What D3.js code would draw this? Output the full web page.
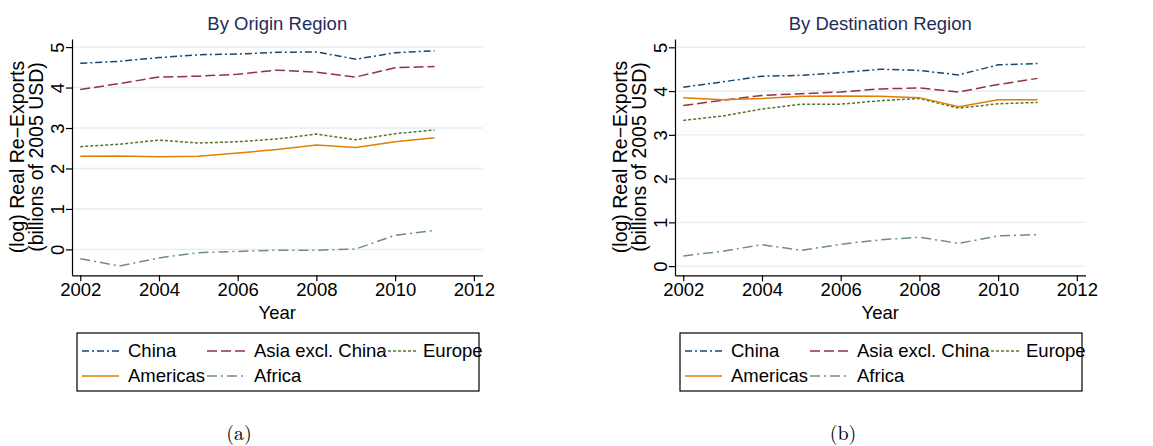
<!DOCTYPE html>
<html>
<head>
<meta charset="utf-8">
<script src="https://cdn.jsdelivr.net/npm/d3@7"></script>
<style>
  html, body { margin: 0; padding: 0; background: #fff; }
  svg text { font-family: "Liberation Sans", Arial, sans-serif; }
</style>
</head>
<body>
<svg id="chart" width="1153" height="446"></svg>
<script>
// Years on the x axis
const years = [2002, 2003, 2004, 2005, 2006, 2007, 2008, 2009, 2010, 2011];
const xTicks = [2002, 2004, 2006, 2008, 2010, 2012];
const yTicks = [0, 1, 2, 3, 4, 5];

const seriesNames = ["China", "Asia excl. China", "Europe", "Americas", "Africa"];

// (log) real re-exports by origin region
const originChina    = [4.60, 4.65, 4.74, 4.81, 4.83, 4.87, 4.88, 4.70, 4.86, 4.91];
const originAsia     = [3.95, 4.10, 4.26, 4.28, 4.33, 4.43, 4.38, 4.26, 4.49, 4.52];
const originEurope   = [2.54, 2.60, 2.70, 2.63, 2.66, 2.73, 2.85, 2.71, 2.86, 2.95];
const originAmericas = [2.30, 2.31, 2.29, 2.30, 2.38, 2.47, 2.58, 2.52, 2.66, 2.76];
const originAfrica   = [-0.23, -0.41, -0.21, -0.08, -0.05, -0.02, -0.02, 0.01, 0.35, 0.47];

// (log) real re-exports by destination region
const destChina    = [4.09, 4.21, 4.34, 4.36, 4.42, 4.50, 4.47, 4.37, 4.60, 4.63];
const destAsia     = [3.67, 3.79, 3.90, 3.94, 3.98, 4.05, 4.07, 3.98, 4.15, 4.29];
const destEurope   = [3.33, 3.43, 3.59, 3.70, 3.70, 3.78, 3.83, 3.61, 3.71, 3.74];
const destAmericas = [3.85, 3.80, 3.83, 3.88, 3.89, 3.88, 3.85, 3.64, 3.80, 3.80];
const destAfrica   = [0.23, 0.34, 0.49, 0.36, 0.50, 0.60, 0.66, 0.52, 0.69, 0.72];

const styles = {
  "China":            { color: "#1a476f", dash: "7,3,2,3" },
  "Asia excl. China": { color: "#90353b", dash: "10,4" },
  "Europe":           { color: "#55752f", dash: "3,2" },
  "Americas":         { color: "#e37e00", dash: null },
  "Africa":           { color: "#6e8e84", dash: "10,4,2,4" }
};

const panels = [
  { title: "By Origin Region", caption: "(a)", left: 72, yDomain: [-0.64, 5.2], captionX: 239,
    values: [originChina, originAsia, originEurope, originAmericas, originAfrica] },
  { title: "By Destination Region", caption: "(b)", left: 675, yDomain: [-0.21, 5.19], captionX: 843,
    values: [destChina, destAsia, destEurope, destAmericas, destAfrica] }
];

const svg = d3.select("#chart");
const plotW = 410.5, plotTop = 39, plotBottom = 275.3;

panels.forEach(p => {
  const g = svg.append("g");
  const x = d3.scaleLinear().domain([2001.79, 2012.22]).range([p.left, p.left + plotW]);
  const y = d3.scaleLinear().domain(p.yDomain).range([plotBottom, plotTop]);

  // grid lines
  g.append("g").selectAll("line").data(yTicks).join("line")
    .attr("x1", p.left).attr("x2", p.left + plotW)
    .attr("y1", d => y(d)).attr("y2", d => y(d))
    .attr("stroke", "#e4edf0").attr("stroke-width", 1.4);

  // y axis
  const yAxis = g.append("g").attr("transform", `translate(${p.left},0)`)
    .call(d3.axisLeft(y).tickValues(yTicks).tickFormat(d3.format("d")).tickSize(6).tickSizeOuter(0));
  yAxis.select(".domain").attr("stroke", "#000").attr("stroke-width", 1.2);
  yAxis.selectAll(".tick line").attr("stroke", "#000").attr("stroke-width", 1.2);
  yAxis.selectAll(".tick text")
    .attr("font-size", 18.5).attr("fill", "#000")
    .attr("x", 0).attr("dy", 0).attr("text-anchor", "middle")
    .attr("transform", "translate(-8,0) rotate(-90)");

  // x axis
  const xAxis = g.append("g").attr("transform", `translate(0,${plotBottom})`)
    .call(d3.axisBottom(x).tickValues(xTicks).tickFormat(d3.format("d")).tickSize(6).tickSizeOuter(0));
  xAxis.select(".domain").attr("stroke", "#000").attr("stroke-width", 1.2);
  xAxis.selectAll(".tick line").attr("stroke", "#000").attr("stroke-width", 1.2);
  xAxis.selectAll(".tick text").attr("font-size", 18.5).attr("fill", "#000").attr("y", 8).attr("dy", "0.71em");

  const cx = p.left + plotW / 2;

  // title
  g.append("text").attr("x", cx).attr("y", 30).attr("text-anchor", "middle")
    .attr("font-size", 18.5).attr("fill", "#1f2d5a").text(p.title);

  // axis titles
  g.append("text").attr("text-anchor", "middle").attr("font-size", 19.5)
    .attr("transform", `translate(${p.left - 48},157) rotate(-90)`).text("(log) Real Re\u2212Exports");
  g.append("text").attr("text-anchor", "middle").attr("font-size", 19.5)
    .attr("transform", `translate(${p.left - 29},157) rotate(-90)`).text("(billions of 2005 USD)");
  g.append("text").attr("x", cx).attr("y", 319).attr("text-anchor", "middle")
    .attr("font-size", 18.5).text("Year");

  // series lines
  const line = d3.line().x((d, i) => x(years[i])).y(d => y(d));
  seriesNames.forEach((name, k) => {
    g.append("path").datum(p.values[k])
      .attr("d", line).attr("fill", "none")
      .attr("stroke", styles[name].color).attr("stroke-width", 1.5)
      .attr("stroke-dasharray", styles[name].dash);
  });

  // legend
  const lx = p.left + 5;
  g.append("rect").attr("x", lx).attr("y", 333).attr("width", 402).attr("height", 58)
    .attr("fill", "none").attr("stroke", "#000").attr("stroke-width", 1.2);
  const cols = [
    { k0: 5, k1: 42, t: 51 },
    { k0: 130, k1: 170, t: 177 },
    { k0: 306, k1: 340, t: 346 }
  ];
  const rows = [351, 376];
  seriesNames.forEach((name, k) => {
    const c = cols[k % 3], r = rows[Math.floor(k / 3)];
    g.append("line").attr("x1", lx + c.k0).attr("x2", lx + c.k1).attr("y1", r).attr("y2", r)
      .attr("stroke", styles[name].color).attr("stroke-width", 1.5)
      .attr("stroke-dasharray", styles[name].dash);
    g.append("text").attr("x", lx + c.t).attr("y", r).attr("dy", "0.35em")
      .attr("font-size", 18.5).text(name);
  });

  // caption
  g.append("text").attr("x", p.captionX).attr("y", 440).attr("text-anchor", "middle")
    .attr("font-size", 20).style("font-family", "'Latin Modern Roman', 'Liberation Serif', serif")
    .text(p.caption);
});
</script>
</body>
</html>
